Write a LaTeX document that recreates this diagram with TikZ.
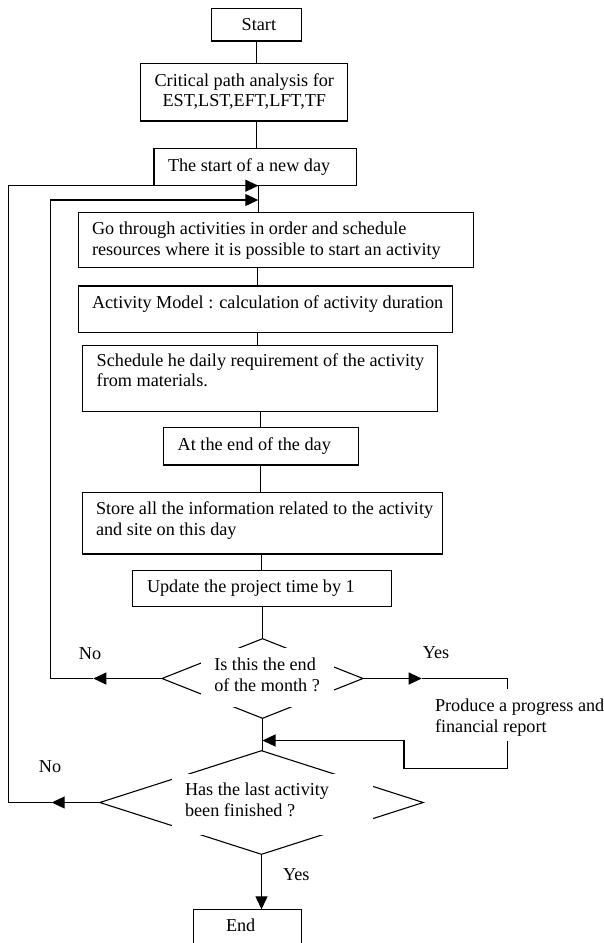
\documentclass[tikz,border=0pt]{standalone}
\usepackage{fontspec}
\setmainfont{Liberation Serif}
\usetikzlibrary{arrows.meta,shapes.geometric}
\newcommand{\tst}{\rule{0pt}{14pt}}
\begin{document}
\begin{tikzpicture}[x=1pt,y=-1pt,
  line width=1.1pt,
  every node/.style={font=\fontsize{18.2}{20.7}\selectfont, outer sep=0pt},
  boxnode/.style={draw, anchor=north west, inner sep=0pt},
  txt/.style={anchor=north west, inner sep=0pt, align=left},
  lbl/.style={inner sep=0pt},
  dec/.style={diamond, draw, inner sep=0pt},
  mask/.style={fill=white, anchor=north west, inner sep=0pt},
  arr/.style={-{Triangle[length=13pt,width=12pt]}},
]
\useasboundingbox (0,0) rectangle (603,943);
\clip (0,0) rectangle (603,943);

% boxes
\node[boxnode, minimum width=90pt, minimum height=32.7pt] (start) at (211.7,8.3) {};
\node[boxnode, minimum width=207.3pt, minimum height=57.7pt] (crit) at (140.4,63.3) {};
\node[boxnode, minimum width=202.7pt, minimum height=37.4pt] (newday) at (154,148.3) {};
\node[boxnode, minimum width=395.5pt, minimum height=55.4pt] (go) at (78.3,212.3) {};
\node[boxnode, minimum width=374pt, minimum height=46.3pt] (act) at (78.3,286) {};
\node[boxnode, minimum width=355pt, minimum height=66.4pt] (sched) at (82.7,345.3) {};
\node[boxnode, minimum width=195pt, minimum height=37.3pt] (eod) at (163.5,427.7) {};
\node[boxnode, minimum width=359.6pt, minimum height=61.7pt] (store) at (82.7,492.3) {};
\node[boxnode, minimum width=258.8pt, minimum height=36pt] (update) at (132.7,570.7) {};
\node[boxnode, minimum width=108.4pt, minimum height=45pt] (endb) at (193.3,909.3) {};

% box texts
\node[txt] (tstart) at (241.7,16.7) {\tst Start};
\node[anchor=north, inner sep=0pt, align=center] (tcrit) at (244.3,72) {\tst Critical path analysis for\\EST,LST,EFT,LFT,TF};
\node[txt] (tnewday) at (168,157) {\tst The start of a new day};
\node[txt] (tgo) at (92,220.3) {\tst Go through activities in order and schedule\\resources where it is possible to start an activity};
\node[txt] (tact) at (92,294.3) {\tst Activity Model : calculation of activity duration};
\node[txt] (tsched) at (96.7,352) {\tst Schedule he daily requirement of the activity\\from materials.};
\node[txt] (teod) at (177.7,436) {\tst At the end of the day};
\node[txt] (tstore) at (96,500.5) {\tst Store all the information related to the activity\\and site on this day};
\node[txt] (tupdate) at (147,578) {\tst Update the project time by 1};
\node[txt] (tend) at (226,917.7) {\tst End};

% decisions
\node[dec, minimum width=201pt, minimum height=79.6pt] (d1) at (262.5,678.5) {};
\node[dec, minimum width=323.3pt, minimum height=103.6pt] (d2) at (261.5,802.5) {};
\node[mask, minimum width=133pt, minimum height=59pt] (m1) at (201,648) {};
\node[mask, minimum width=201.3pt, minimum height=61pt] (m2) at (171.7,774) {};
\node[txt] (td1) at (214.3,656.5) {\tst Is this the end\\of the month ?};
\node[txt] (td2) at (185,781.5) {\tst Has the last activity\\been finished ?};
\node[txt] (tprod) at (435,697.5) {\tst Produce a progress and\\financial report};

% spine coordinates
\coordinate (x1) at (256.7,0);
\coordinate (x2) at (258.3,0);
\coordinate (x3) at (257.7,0);
\coordinate (x4) at (260.8,0);
\coordinate (x5) at (261.5,0);

\draw (start.south) -- (crit.north -| start.south);
\draw (crit.south -| x1) -- (newday.north -| x1);
\draw (newday.south -| x2) -- (go.north -| x2);
\draw (go.south -| x3) -- (act.north -| x3);
\draw (act.south -| x3) -- (sched.north -| x3);
\draw (sched.south -| x4) -- (eod.north -| x4);
\draw (eod.south -| x4) -- (store.north -| x4);
\draw (store.south -| x5) -- (update.north -| x5);
\draw (update.south -| d1.north) -- (d1.north);
\draw (d1.south) -- (d2.north -| d1.south);
\draw[arr] (d2.south) -- (endb.north -| d2.south);

% loop: not end of month
\coordinate (no1tip) at (93.3,678.5);
\coordinate (inL) at (50.7,678.5);
\coordinate (intip) at (258.3,200);
\draw[arr] (d1.west) -- (no1tip);
\draw[arr] (no1tip) -- (inL) |- (intip);

% loop: not finished
\coordinate (no2tip) at (51.7,802.5);
\coordinate (outL) at (8.3,802.5);
\draw[arr] (d2.west) -- (no2tip);
\draw[arr] (no2tip) -- (outL) |- (newday.south -| x2);

% yes branch: report
\coordinate (yesTip) at (421.7,678.5);
\coordinate (rA) at (507.3,678.5);
\coordinate (rB) at (507.3,689.3);
\coordinate (rC) at (507.3,740.7);
\coordinate (rD) at (507.3,768.3);
\coordinate (rE) at (404,768.3);
\coordinate (rF) at (404,740.5);
\draw[arr] (d1.east) -- (yesTip);
\draw (yesTip) -- (rA) -- (rB);
\draw[arr] (rC) -- (rD) -- (rE) -- (rF) -- (d1.south |- rF);

% labels
\node[lbl] (no1) at (90,653.3) {No};
\node[lbl] (yes1) at (436,652.3) {Yes};
\node[lbl] (no2) at (50,766.7) {No};
\node[lbl] (yes2) at (296.3,874.3) {Yes};
\end{tikzpicture}
\end{document}
